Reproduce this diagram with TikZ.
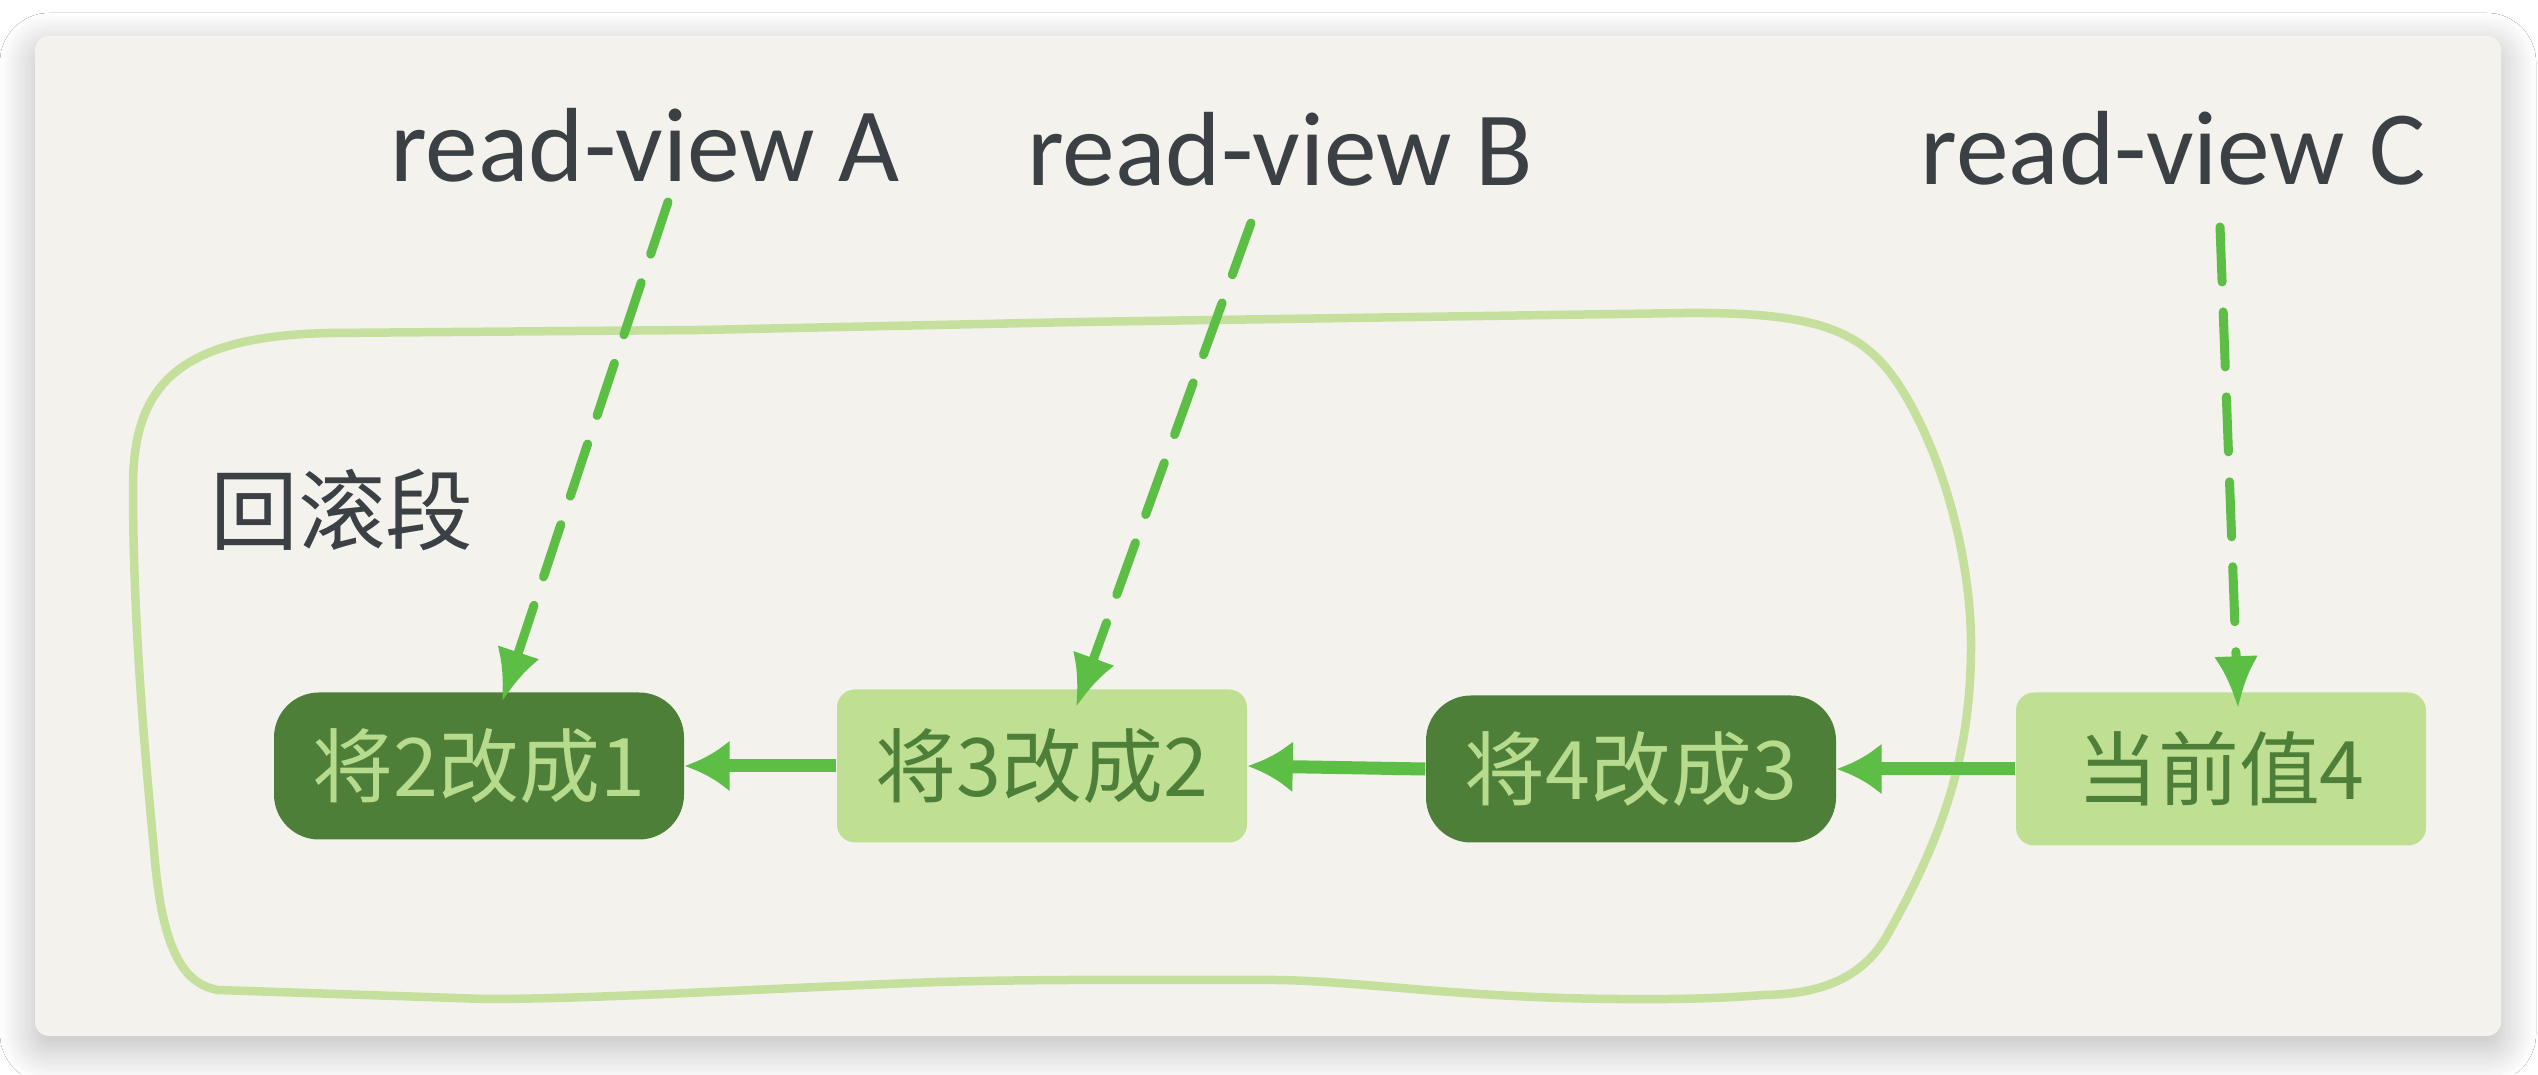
\documentclass[tikz,border=0pt]{standalone}
\usepackage{fontspec}
\setmainfont{Carlito}
\newfontfamily\cjk{Noto Sans CJK SC}
\usetikzlibrary{shapes,arrows.meta,shadows.blur}
\definecolor{cardbg}{HTML}{F3F2ED}
\definecolor{darkgreen}{HTML}{4E7F39}
\definecolor{lightgreen}{HTML}{BFDF92}
\definecolor{palegreen}{HTML}{B7DB8C}
\definecolor{framegreen}{HTML}{C5E09C}
\definecolor{arrowgreen}{HTML}{5CBE45}
\definecolor{ink}{HTML}{3A4043}
\tikzstyle{undo}=[fill=darkgreen, text=palegreen, minimum width=4.1cm,
    minimum height=1.47cm, rounded corners=0.45cm, inner sep=0pt,
    font=\cjk\fontsize{23}{27}\selectfont]
\tikzstyle{undo2}=[undo, fill=lightgreen, text=darkgreen,
    rounded corners=0.18cm, minimum height=1.53cm]
\tikzstyle{rv}=[text=ink, anchor=base, inner sep=0pt,
    font=\fontsize{30}{36}\selectfont]
\tikzstyle{undolink}=[draw=arrowgreen, line width=0.13cm,
    -{Latex[length=0.45cm,width=0.52cm]}]
\tikzstyle{viewlink}=[draw=arrowgreen, line width=0.09cm, line cap=round,
    dash pattern=on 0.55cm off 0.3cm, -{Latex[length=0.52cm,width=0.44cm]}]
\begin{document}
\begin{tikzpicture}
    \useasboundingbox (0,0) rectangle (25.38,10.74);
    \fill[white] (0,0) rectangle (25.38,10.74);
    \path[fill=cardbg, rounded corners=0.14cm,
        blur shadow={shadow xshift=0cm, shadow yshift=-0.12cm,
        shadow blur radius=0.35cm, shadow blur steps=30, shadow opacity=28}]
        (0.35,0.38) rectangle (25.01,10.38);

    % rollback segment frame
    \draw[framegreen, line width=0.085cm, line join=round]
        (1.54,2.24) .. controls (1.45,3.2) and (1.33,4.5) .. (1.33,5.88)
        .. controls (1.33,6.9) and (1.8,7.38) .. (3.30,7.41)
        -- (7.00,7.44) -- (10.78,7.52) -- (16.86,7.61)
        .. controls (18.3,7.62) and (18.7,7.4) .. (19.08,6.74)
        .. controls (19.5,6.0) and (19.72,5.0) .. (19.71,4.24)
        .. controls (19.70,3.2) and (19.45,2.4) .. (18.85,1.35)
        .. controls (18.6,0.95) and (18.2,0.8) .. (17.64,0.79)
        .. controls (17.0,0.74) and (16.5,0.75) .. (16.18,0.75)
        .. controls (14.5,0.76) and (13.5,0.95) .. (12.62,0.94)
        .. controls (11.5,0.94) and (10.5,0.95) .. (9.38,0.92)
        .. controls (7.5,0.85) and (6,0.75) .. (4.85,0.75)
        -- (2.18,0.84)
        .. controls (1.85,0.9) and (1.62,1.2) .. (1.54,2.24) -- cycle;
    \node (seg) at (3.42,5.64) [text=ink, font=\cjk\fontsize{25}{30}\selectfont] {回滚段};

    \node (n1) at (4.79,3.08) [undo] {将2改成1};
    \path (n1.center)+(5.63,0) node (n2) [undo2] {将3改成2};
    \path (n2.center)+(5.89,-0.03) node (n3) [undo] {将4改成3};
    \path (n3.center)+(5.90,0) node (n4) [undo2] {当前值4};

    \node (rvA) at (6.45,8.92) [rv] {read-view A};
    \path (rvA.base)+(6.35,-0.04) node (rvB) [rv] {read-view B};
    \path (rvB.base)+(8.93,0.01) node (rvC) [rv] {read-view C};

    %%% arrows
    \path [undolink] (n2.west) -- (n1.east);
    \path [undolink] (n3.west) -- (n2.east);
    \path [undolink] (n4.west) -- (n3.east);
    \path [viewlink] ([shift={(0.23,-0.20)}]rvA.base) -- ([shift={(0.23,-0.10)}]n1.north);
    \path [viewlink] ([shift={(-0.29,-0.37)}]rvB.base) -- ([shift={(0.34,-0.185)}]n2.north);
    \path [viewlink] ([shift={(0.47,-0.42)}]rvC.base) -- ([shift={(0.17,-0.165)}]n4.north);
\end{tikzpicture}
\end{document}
